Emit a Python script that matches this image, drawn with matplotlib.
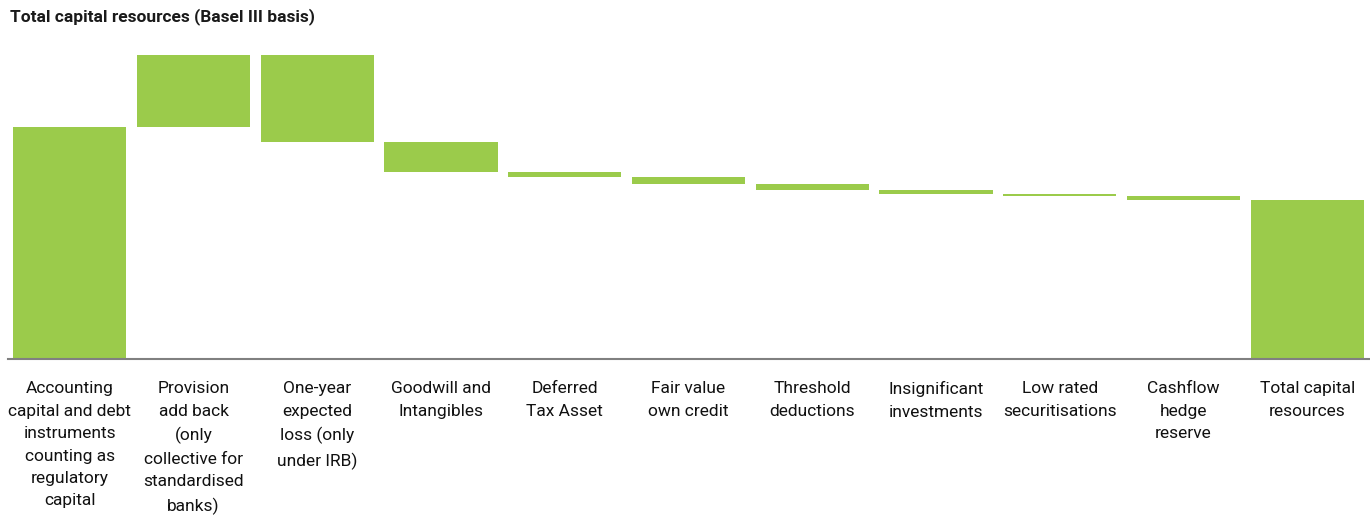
import matplotlib.pyplot as plt

# Waterfall steps (same units throughout); first and last are totals
categories = [
    "Accounting\ncapital and debt\ninstruments\ncounting as\nregulatory\ncapital",
    "Provision\nadd back\n(only\ncollective for\nstandardised\nbanks)",
    "One-year\nexpected\nloss (only\nunder IRB)",
    "Goodwill and\nIntangibles",
    "Deferred\nTax Asset",
    "Fair value\nown credit",
    "Threshold\ndeductions",
    "Insignificant\ninvestments",
    "Low rated\nsecuritisations",
    "Cashflow\nhedge\nreserve",
    "Total capital\nresources",
]
changes = [232, 72, -87, -30, -5, -7, -6, -4, -2, -4]
is_total = [True, False, False, False, False, False, False, False, False, False, True]

green = "#9BCB4B"

plt.rcParams["font.family"] = ["Roboto", "DejaVu Sans"]

fig = plt.figure(figsize=(13.7, 5.2), dpi=100)
ax = fig.add_axes([8 / 1370, (520 - 359) / 520, 1361 / 1370, (359 - 40) / 520])

running = 0
bottoms, heights = [], []
for i, lab in enumerate(categories):
    if i == 0:
        running = changes[0]
        bottoms.append(0)
        heights.append(running)
    elif is_total[i]:
        bottoms.append(0)
        heights.append(running)
    else:
        d = changes[i]
        bottoms.append(running if d >= 0 else running + d)
        heights.append(abs(d))
        running += d

x = list(range(len(categories)))
ax.bar(x, heights, bottom=bottoms, width=0.915, color=green, linewidth=0)

ax.set_xlim(-0.5, len(categories) - 0.5)
ax.set_ylim(0, 319)
ax.set_yticks([])
ax.set_xticks(x)
ax.set_xticklabels(categories, fontsize=12.5, linespacing=1.62, va="top",
                   color="#111111")
ax.tick_params(axis="x", length=0, pad=16)

for side in ["top", "right", "left"]:
    ax.spines[side].set_visible(False)
ax.spines["bottom"].set_color("#808080")
ax.spines["bottom"].set_linewidth(1.5)

fig.text(10 / 1370, 1 - 17 / 520, "Total capital resources (Basel III basis)",
         fontsize=12.5, fontweight="bold", va="center", ha="left", color="#1a1a1a")

fig.savefig("out.png", dpi=100)
